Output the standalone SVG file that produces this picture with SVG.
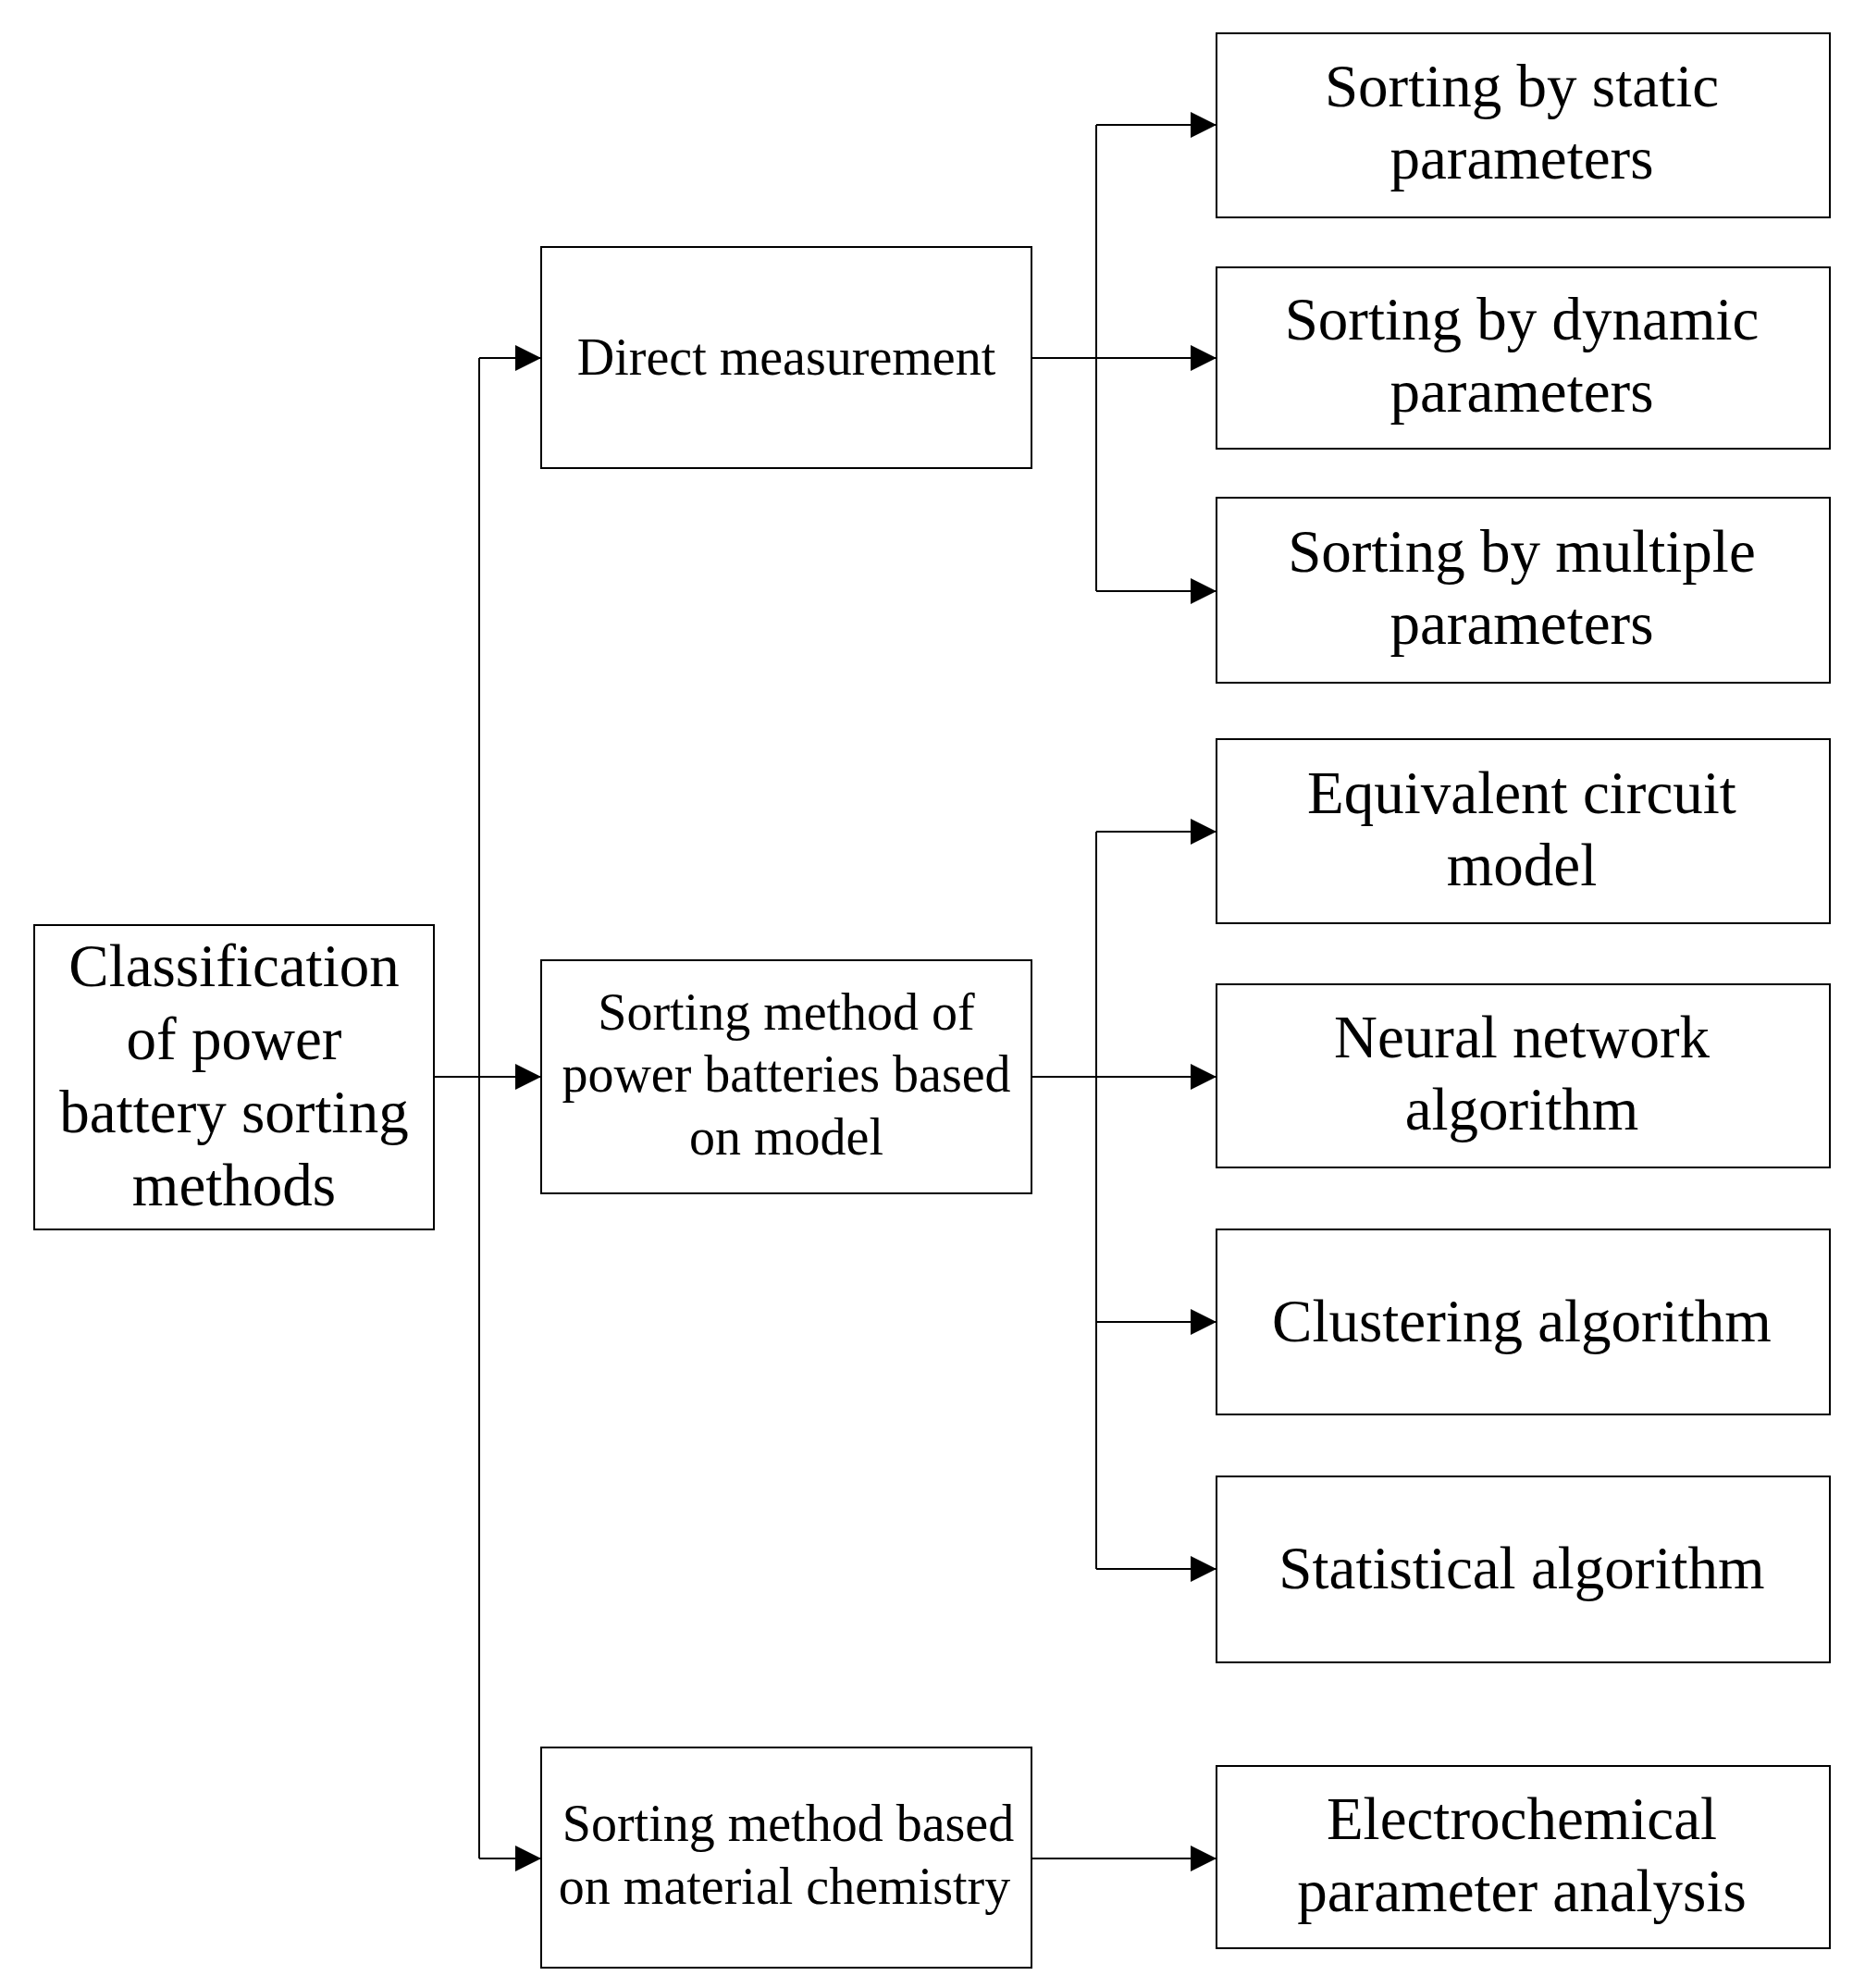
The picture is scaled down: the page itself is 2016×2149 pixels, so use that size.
<svg xmlns="http://www.w3.org/2000/svg" width="2016" height="2149" viewBox="0 0 2016 2149">
<style>
.box{fill:#fff;stroke:#000;stroke-width:2}
.t{font-family:"Liberation Serif","Times New Roman",serif;fill:#000;text-anchor:middle}
.big{font-size:65px}
.mid{font-size:56px}
.c{fill:none;stroke:#000;stroke-width:2}
</style>
<defs>
<marker id="arr" markerUnits="userSpaceOnUse" markerWidth="28" markerHeight="28" refX="28" refY="14" orient="auto">
<path d="M0,0 L28,14 L0,28 z" fill="#000"/>
</marker>
</defs>
<rect width="2016" height="2149" fill="#fff"/>
<g id="connectors">
<path class="c" d="M518,387 V2009"/>
<path class="c" d="M469,1164 H585" marker-end="url(#arr)"/>
<path class="c" d="M518,387 H585" marker-end="url(#arr)"/>
<path class="c" d="M518,2009 H585" marker-end="url(#arr)"/>
<path class="c" d="M1185,135 V639"/>
<path class="c" d="M1115,387 H1315" marker-end="url(#arr)"/>
<path class="c" d="M1185,135 H1315" marker-end="url(#arr)"/>
<path class="c" d="M1185,639 H1315" marker-end="url(#arr)"/>
<path class="c" d="M1185,899 V1696"/>
<path class="c" d="M1115,1164 H1315" marker-end="url(#arr)"/>
<path class="c" d="M1185,899 H1315" marker-end="url(#arr)"/>
<path class="c" d="M1185,1429 H1315" marker-end="url(#arr)"/>
<path class="c" d="M1185,1696 H1315" marker-end="url(#arr)"/>
<path class="c" d="M1115,2009 H1315" marker-end="url(#arr)"/>
</g>
<g id="root">
<rect class="box" x="37" y="1000" width="432" height="329"/>
<text class="t big" x="253" y="1066">Classification</text>
<text class="t big" x="253" y="1145">of power</text>
<text class="t big" x="253" y="1224">battery sorting</text>
<text class="t big" x="253" y="1303">methods</text>
</g>
<g id="direct">
<rect class="box" x="585" y="267" width="530" height="239"/>
<text class="t mid" x="850" y="405">Direct measurement</text>
</g>
<g id="model">
<rect class="box" x="585" y="1038" width="530" height="252"/>
<text class="t mid" x="850" y="1113">Sorting method of</text>
<text class="t mid" x="850" y="1180">power batteries based</text>
<text class="t mid" x="850" y="1248">on model</text>
</g>
<g id="material">
<rect class="box" x="585" y="1889" width="530" height="238"/>
<text class="t mid" x="852" y="1990">Sorting method based</text>
<text class="t mid" x="848" y="2058">on material chemistry</text>
</g>
<g id="static">
<rect class="box" x="1315" y="36" width="663" height="199"/>
<text class="t big" x="1645" y="115">Sorting by static</text>
<text class="t big" x="1645" y="193">parameters</text>
</g>
<g id="dynamic">
<rect class="box" x="1315" y="289" width="663" height="196"/>
<text class="t big" x="1645" y="367">Sorting by dynamic</text>
<text class="t big" x="1645" y="445">parameters</text>
</g>
<g id="multiple">
<rect class="box" x="1315" y="538" width="663" height="200"/>
<text class="t big" x="1645" y="618">Sorting by multiple</text>
<text class="t big" x="1645" y="696">parameters</text>
</g>
<g id="equivalent">
<rect class="box" x="1315" y="799" width="663" height="199"/>
<text class="t big" x="1645" y="879">Equivalent circuit</text>
<text class="t big" x="1645" y="957">model</text>
</g>
<g id="neural">
<rect class="box" x="1315" y="1064" width="663" height="198"/>
<text class="t big" x="1645" y="1143">Neural network</text>
<text class="t big" x="1645" y="1221">algorithm</text>
</g>
<g id="clustering">
<rect class="box" x="1315" y="1329" width="663" height="200"/>
<text class="t big" x="1645" y="1450">Clustering algorithm</text>
</g>
<g id="statistical">
<rect class="box" x="1315" y="1596" width="663" height="201"/>
<text class="t big" x="1645" y="1717">Statistical algorithm</text>
</g>
<g id="electrochemical">
<rect class="box" x="1315" y="1909" width="663" height="197"/>
<text class="t big" x="1645" y="1988">Electrochemical</text>
<text class="t big" x="1645" y="2066">parameter analysis</text>
</g>
</svg>
